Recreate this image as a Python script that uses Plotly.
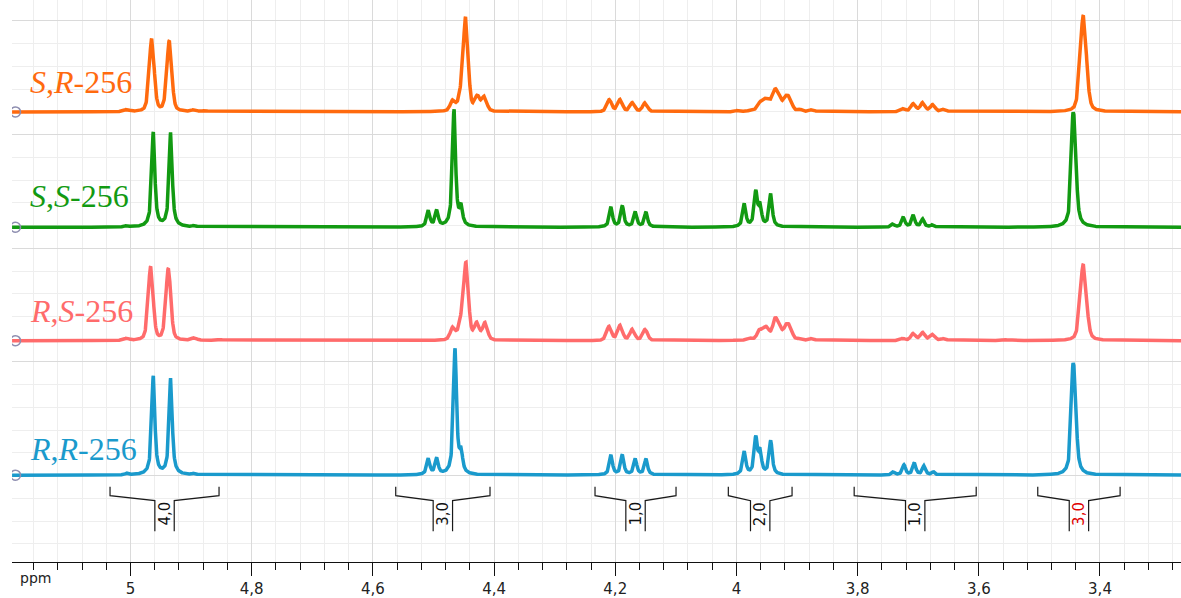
import numpy as np
import plotly.graph_objects as go

# ---------------- data ----------------
tick_values = [5.0, 4.8, 4.6, 4.4, 4.2, 4.0, 3.8, 3.6, 3.4]
tick_labels = ["5", "4,8", "4,6", "4,4", "4,2", "4", "3,8", "3,6", "3,4"]

# peak lists: position (ppm), height (display units)
rr_ppm = [5.0063, 4.9624, 4.9337, 4.8947, 4.5085, 4.4946, 4.4644, 4.4545,
          4.2070, 4.1883, 4.1669, 4.1492, 3.9870, 3.9681, 3.9611, 3.9434,
          3.7410, 3.7234, 3.7064, 3.6904, 3.6750, 3.4450, 3.4412]
rr_height = [1.5, 99, 97, 1.5, 16, 16, 126, 20,
             20, 20, 16, 16, 23, 36, 22, 34,
             3, 10, 12, 9, 3, 83, 70]

rs_ppm = [5.0063, 4.9667, 4.9376, 4.8947, 4.8770, 4.8523,
          4.4682, 4.4550, 4.4463, 4.4286, 4.4149,
          4.2103, 4.1921, 4.1718, 4.1508,
          3.9969, 3.9776, 3.9622, 3.9544, 3.9490, 3.9363, 3.9292, 3.9181, 3.9115, 3.8950, 3.8752,
          3.7255, 3.7081, 3.6925, 3.6760, 3.6574, 3.5567, 3.4275]
rs_height = [2, 74, 72, 2.5, 1, 1,
             12, 14, 76, 16, 17,
             14, 15, 11, 11,
             1, 2, 9, 7, 9, 19, 11, 12, 11, 2, 2,
             2, 7, 8, 6, 2, 1, 77]

ss_ppm = [5.0063, 4.9624, 4.9337, 4.8947, 4.5085, 4.4946, 4.4661, 4.4545,
          4.2070, 4.1883, 4.1669, 4.1492, 3.9870, 3.9681, 3.9611, 3.9434,
          3.7420, 3.7245, 3.7081, 3.6925, 3.6760, 3.4450, 3.4412]
ss_height = [1.5, 95, 95, 1.5, 16, 16, 118, 18,
             20, 21, 15, 15, 23, 34, 20, 33,
             3, 10, 12, 8, 2.5, 85, 72]

sr_ppm = [5.0063, 4.9650, 4.9360, 4.8947, 4.8770,
          4.4682, 4.4550, 4.4468, 4.4276, 4.4161,
          4.2098, 4.1921, 4.1718, 4.1508,
          3.9969, 3.9747, 3.9611, 3.9528, 3.9462, 3.9363, 3.9289, 3.9181, 3.9115, 3.8950, 3.8752,
          3.7245, 3.7081, 3.6925, 3.6760, 3.6574, 3.4275]
sr_height = [2, 73, 71, 2, 1,
             10, 12, 93, 14, 14,
             12, 12, 9, 9,
             1.5, 2, 8, 9, 8, 19, 11, 12, 10, 2, 2,
             3, 8, 9, 7, 2.5, 97]

series_names = ["R,R-256", "R,S-256", "S,S-256", "S,R-256"]
series_labels = ["<i>R</i>,<i>R</i>-256", "<i>R</i>,<i>S</i>-256",
                 "<i>S</i>,<i>S</i>-256", "<i>S</i>,<i>R</i>-256"]
series_peaks = [(rr_ppm, rr_height), (rs_ppm, rs_height), (ss_ppm, ss_height), (sr_ppm, sr_height)]

# integrals: start ppm, end ppm, value
integral_start = [5.0338, 4.5623, 4.2334, 4.0134, 3.8057, 3.5027]
integral_end = [4.8539, 4.4067, 4.0997, 3.9082, 3.6043, 3.3668]
integral_values = ["4,0", "3,0", "1,0", "2,0", "1,0", "3,0"]

# ---------------- style ----------------
series_colors = ["#1a9acc", "#ff6b6b", "#129a12", "#ff6a0e"]
series_offsets = [87.3, 222.5, 336.5, 452.5]
series_hwhm = [0.0030, 0.0048, 0.0030, 0.0048]
series_eta = [0.85, 0.35, 0.85, 0.35]
label_y = [451, 312.5, 197, 82.5]
integral_colors = ["#111111"] * 5 + ["#e00000"]

x_left, x_right = 5.1956, 3.2663
grid = np.arange(x_right, x_left, 0.0004)


def spectrum(ppm, height, hw, eta):
    y = np.zeros_like(grid)
    for p, h in zip(ppm, height):
        w = hw * (1.25 if 3.42 < p < 3.44 else 1.0)
        d = (grid - p) / w
        y += h * (eta / (1 + d * d) + (1 - eta) * np.exp(-np.log(2) * d * d))
    return y


fig = go.Figure()

for name, (pp, hh), col, off, hw, eta in zip(series_names, series_peaks, series_colors,
                                              series_offsets, series_hwhm, series_eta):
    fig.add_trace(go.Scatter(x=grid, y=spectrum(pp, hh, hw, eta) + off, mode="lines",
                             line=dict(color=col, width=3.5), name=name, hoverinfo="skip"))

# baseline handles
fig.add_trace(go.Scatter(x=[5.1898] * 4, y=series_offsets, mode="markers",
                         marker=dict(symbol="circle-open", size=10, color="#8e8eb0",
                                     line=dict(color="#8e8eb0", width=1.5)),
                         cliponaxis=True, hoverinfo="skip", showlegend=False))

# integral brackets
end_top, end_bend, center_bend, bottom = 75.7, 66.7, 61.7, 31.0
half_gap = 0.016
bx, by = [], []
for s, e in zip(integral_start, integral_end):
    c = (s + e) / 2
    bx += [s, s, c + half_gap, c + half_gap, None, c - half_gap, c - half_gap, e, e, None]
    by += [end_top, end_bend, center_bend, bottom, None, bottom, center_bend, end_bend, end_top, None]
fig.add_trace(go.Scatter(x=bx, y=by, mode="lines", line=dict(color="#1a1a1a", width=1.2),
                         hoverinfo="skip", showlegend=False))

annotations = []
for s, e, v, col in zip(integral_start, integral_end, integral_values, integral_colors):
    annotations.append(dict(x=(s + e) / 2, y=48.3, xref="x", yref="y", text=v, textangle=-90,
                            showarrow=False, xanchor="center", yanchor="middle",
                            font=dict(family="DejaVu Sans", size=15, color=col)))
for lab, col, ly in zip(series_labels, series_colors, label_y):
    annotations.append(dict(x=(28 - 12) / 1169, y=565 - ly, xref="paper", yref="y", text=lab,
                            showarrow=False, xanchor="left", yanchor="middle",
                            font=dict(family="Liberation Serif", size=32, color=col)))
annotations.append(dict(x=(35 - 12) / 1169, y=(565 - 581) / 565, xref="paper", yref="paper",
                        text="ppm", showarrow=False, xanchor="center", yanchor="middle",
                        font=dict(family="DejaVu Sans", size=14, color="#222222")))

fig.update_layout(
    width=1181, height=598,
    margin=dict(l=12, r=0, t=0, b=33),
    paper_bgcolor="white", plot_bgcolor="white",
    showlegend=False,
    annotations=annotations,
    xaxis=dict(range=[x_left, x_right], tickmode="array", tickvals=tick_values, ticktext=tick_labels,
               ticks="outside", ticklen=13, tickwidth=1, tickcolor="#111111",
               showline=True, linecolor="#111111", linewidth=1,
               showgrid=True, gridcolor="#dadada", gridwidth=1, zeroline=False,
               tickfont=dict(family="DejaVu Sans", size=15, color="#222222"),
               minor=dict(tickmode="linear", tick0=5.0, dtick=0.04, ticks="outside", ticklen=7,
                          tickwidth=1, tickcolor="#111111", showgrid=True, gridcolor="#eeeeee")),
    yaxis=dict(range=[0, 565], showticklabels=False, ticks="", zeroline=False,
               tickmode="linear", tick0=86.8, dtick=114.3, showgrid=True, gridcolor="#dadada",
               minor=dict(tickmode="linear", tick0=86.8, dtick=22.86, showgrid=True,
                          gridcolor="#eeeeee")),
)

fig.write_html("out.html", config={"displayModeBar": False},
               post_script="document.body.style.margin='0px';")
